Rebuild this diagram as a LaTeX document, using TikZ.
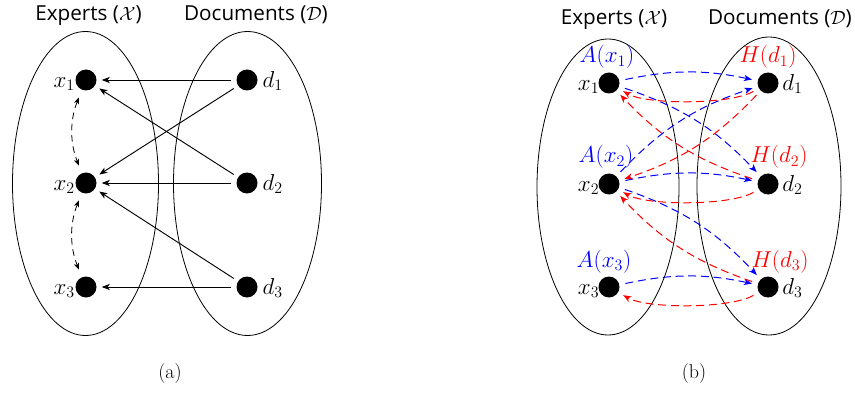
\documentclass[tikz,border=0pt]{standalone}
\usepackage{fontspec}
\setsansfont{Open Sans}
\usetikzlibrary{arrows.meta,calc}
\begin{document}
\begin{tikzpicture}[x=0.75pt,y=0.75pt,
  dot/.style={circle,fill=black,inner sep=0pt,minimum size=15.75pt},
  ell/.style={draw,line width=0.6pt},
  ttl/.style={font=\sffamily\fontsize{15.5}{18}\selectfont,inner sep=0pt,anchor=base},
  lab/.style={font=\fontsize{16.5}{19}\selectfont,inner sep=0pt},
  captext/.style={font=\fontsize{15}{18}\selectfont,inner sep=0pt,anchor=base},
  tip/.style={-{Stealth[length=6pt,width=4.6pt,inset=1.6pt]}},
  solidarr/.style={tip,line width=0.7pt,shorten >=3.75pt,shorten <=3.75pt},
  dasharr/.style={{Stealth[length=5pt,width=4pt,inset=1.3pt]}-{Stealth[length=5pt,width=4pt,inset=1.3pt]},line width=0.6pt,dash pattern=on 5pt off 3.5pt,shorten >=6pt,shorten <=6pt},
  colarr/.style={tip,line width=0.75pt,dash pattern=on 6pt off 3.5pt,shorten >=4.2pt,shorten <=4.5pt},
  bluearr/.style={colarr,blue},
  redarr/.style={colarr,red}]
\useasboundingbox (0,0) rectangle (855,393);

% ---------------- panel (a) ----------------
\draw[ell] (85.5,209.5) ellipse [x radius=73, y radius=152];
\draw[ell] (247.5,209.5) ellipse [x radius=74, y radius=152];
\node[ttl] (ta1) at (88.5,372.3) {Experts ($\mathcal{X}$)};
\node[ttl] (ta2) at (256,372.3) {Documents ($\mathcal{D}$)};

\node[dot] (x1) at (86,313) {};
\node[dot] (x2) at (86,210) {};
\node[dot] (x3) at (86,106) {};
\node[dot] (d1) at (247,313) {};
\node[dot] (d2) at (247,210) {};
\node[dot] (d3) at (247,106) {};

\foreach \i in {1,2,3}{
  \node[lab,anchor=base east] (lx\i) at ([yshift=-5.3pt]x\i.west) {$x_\i$};
  \node[lab,anchor=base west] (ld\i) at ([xshift=3.5pt,yshift=-5.3pt]d\i.east) {$d_\i$};
}

\draw[solidarr] (d1) -- (x1);
\draw[solidarr] (d1) -- (x2);
\draw[solidarr] (d2) -- (x1);
\draw[solidarr] (d2) -- (x2);
\draw[solidarr] (d3) -- (x2);
\draw[solidarr] (d3) -- (x3);

\draw[dasharr] (x1) to[bend right=22] (x2);
\draw[dasharr] (x2) to[bend right=22] (x3);

\node[captext] (ca) at (170,15) {(a)};

% ---------------- panel (b) ----------------
\draw[ell] (608,206) ellipse [x radius=71, y radius=148];
\draw[ell] (769,207) ellipse [x radius=72, y radius=149];
\node[ttl] (tb1) at (614,368) {Experts ($\mathcal{X}$)};
\node[ttl] (tb2) at (780,368) {Documents ($\mathcal{D}$)};

\node[dot] (bx1) at (609,310) {};
\node[dot] (bx2) at (609,209) {};
\node[dot] (bx3) at (609,106) {};
\node[dot] (bd1) at (768,310) {};
\node[dot] (bd2) at (768,209) {};
\node[dot] (bd3) at (768,106) {};

\foreach \i in {1,2,3}{
  \node[lab,anchor=base east] (blx\i) at ([xshift=1pt,yshift=-5.3pt]bx\i.west) {$x_\i$};
  \node[lab,anchor=base west] (bld\i) at ([xshift=2.5pt,yshift=-5.3pt]bd\i.east) {$d_\i$};
}

\node[lab,anchor=base,blue] (ax1) at (607,330) {$A(x_1)$};
\node[lab,anchor=base,blue] (ax2) at (606,230) {$A(x_2)$};
\node[lab,anchor=base,blue] (ax3) at (604,126) {$A(x_3)$};
\node[lab,anchor=base,red] (hd1) at (768,330) {$H(d_1)$};
\node[lab,anchor=base,red] (hd2) at (779,230) {$H(d_2)$};
\node[lab,anchor=base,red] (hd3) at (780,126) {$H(d_3)$};

\draw[bluearr] (bx1) to[bend left=12] (bd1);
\draw[bluearr] (bx2) to[bend left=14] (bd1);
\draw[bluearr] (bx1) to[bend left=14] (bd2);
\draw[bluearr] (bx2) to[bend left=12] (bd2);
\draw[bluearr] (bx2) to[bend left=14] (bd3);
\draw[bluearr] (bx3) to[bend left=12] (bd3);

\draw[redarr] (bd1) to[out=-150,in=-30,looseness=0.6] (bx1);
\draw[redarr] (bd1) to[bend left=14] (bx2);
\draw[redarr] (bd2) to[bend left=14] (bx1);
\draw[redarr] (bd2) to[out=-150,in=-30,looseness=0.6] (bx2);
\draw[redarr] (bd3) to[bend left=14] (bx2);
\draw[redarr] (bd3) to[out=-150,in=-30,looseness=0.6] (bx3);

\node[captext] (cb) at (694,15) {(b)};
\end{tikzpicture}
\end{document}
